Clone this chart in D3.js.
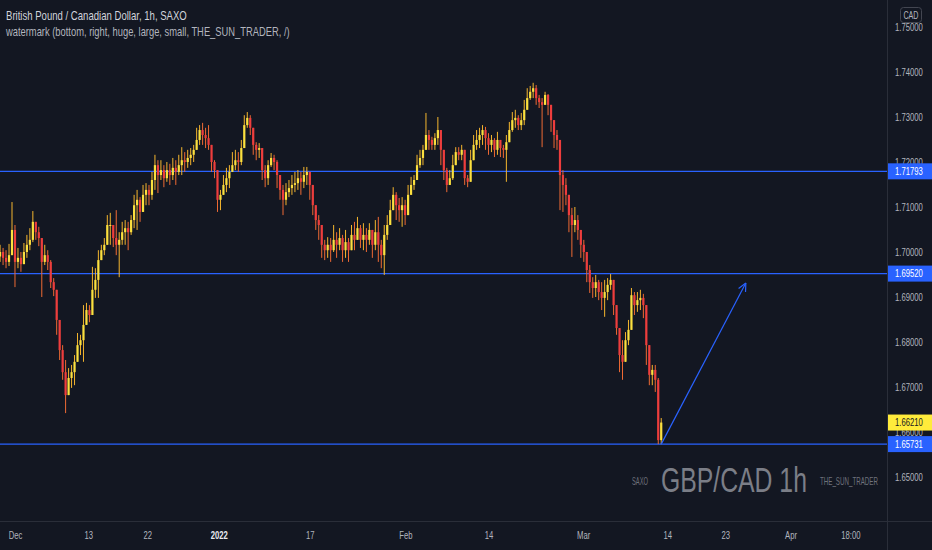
<!DOCTYPE html>
<html>
<head>
<meta charset="utf-8">
<script src="https://cdn.jsdelivr.net/npm/d3@7"></script>
<style>
  html, body { margin: 0; padding: 0; background: #131722; overflow: hidden; }
  svg text { font-family: "Liberation Sans", Arial, sans-serif; }
</style>
</head>
<body>
<svg id="chart"></svg>
<script>
var firstOpen = 1.6990
var barStartDay = -1.67   // trading days after 1 Dec 2021

var barClose = [
 1.7000,1.6987,1.6978,1.6993,1.7049,1.6978,1.6987,1.6973,1.7000,1.7016,
 1.7027,1.7067,1.7044,1.7031,1.6978,1.6993,1.6978,1.6933,1.6916,1.6849,
 1.6782,1.6733,1.6682,1.6720,1.6733,1.6756,1.6793,1.6804,1.6838,1.6871,
 1.6860,1.6916,1.6938,1.6982,1.7004,1.7016,1.7060,1.7060,1.7031,1.7016,
 1.7027,1.7044,1.7053,1.7044,1.7071,1.7104,1.7116,1.7089,1.7127,1.7138,
 1.7127,1.7160,1.7193,1.7171,1.7182,1.7164,1.7182,1.7171,1.7187,1.7178,
 1.7193,1.7204,1.7200,1.7209,1.7216,1.7227,1.7249,1.7271,1.7260,1.7253,
 1.7238,1.7200,1.7182,1.7116,1.7127,1.7149,1.7164,1.7178,1.7193,1.7204,
 1.7200,1.7231,1.7282,1.7298,1.7276,1.7238,1.7227,1.7231,1.7182,1.7164,
 1.7193,1.7209,1.7200,1.7171,1.7138,1.7116,1.7133,1.7142,1.7149,1.7153,
 1.7164,1.7156,1.7171,1.7178,1.7149,1.7104,1.7071,1.7060,1.7016,1.7004,
 1.7016,1.7004,1.7027,1.7016,1.7031,1.7004,1.7022,1.7004,1.7038,1.7027,
 1.7053,1.7027,1.7038,1.7027,1.7049,1.7016,1.7044,1.7016,1.6993,1.7038,
 1.7060,1.7093,1.7127,1.7104,1.7093,1.7104,1.7082,1.7127,1.7149,1.7160,
 1.7193,1.7209,1.7227,1.7260,1.7249,1.7238,1.7253,1.7271,1.7227,1.7182,
 1.7149,1.7164,1.7193,1.7222,1.7216,1.7227,1.7164,1.7156,1.7204,1.7238,
 1.7249,1.7260,1.7271,1.7253,1.7238,1.7249,1.7227,1.7249,1.7231,1.7227,
 1.7244,1.7271,1.7293,1.7298,1.7282,1.7293,1.7316,1.7342,1.7356,1.7364,
 1.7342,1.7333,1.7327,1.7349,1.7327,1.7293,1.7260,1.7249,1.7171,1.7149,
 1.7127,1.7082,1.7060,1.7071,1.7049,1.7016,1.7000,1.6960,1.6933,1.6920,
 1.6933,1.6911,1.6898,1.6911,1.6927,1.6938,1.6882,1.6831,1.6771,1.6756,
 1.6804,1.6827,1.6904,1.6882,1.6893,1.6898,1.6882,1.6793,1.6727,1.6738,
 1.6716,1.6582,1.6621
]

var barHigh = [
 1.7016,1.7009,1.7004,1.7018,1.7111,1.7060,1.7009,1.7000,1.7020,1.7038,
 1.7053,1.7091,1.7067,1.7056,1.7027,1.7016,1.7004,1.6982,1.6942,1.6916,
 1.6849,1.6793,1.6760,1.6742,1.6749,1.6771,1.6820,1.6816,1.6882,1.6887,
 1.6882,1.6967,1.6964,1.7004,1.7016,1.7031,1.7082,1.7087,1.7060,1.7093,
 1.7044,1.7067,1.7071,1.7067,1.7082,1.7127,1.7138,1.7122,1.7149,1.7153,
 1.7149,1.7178,1.7216,1.7204,1.7204,1.7193,1.7200,1.7196,1.7209,1.7204,
 1.7216,1.7233,1.7222,1.7227,1.7231,1.7238,1.7276,1.7282,1.7287,1.7276,
 1.7282,1.7227,1.7204,1.7171,1.7138,1.7171,1.7187,1.7193,1.7222,1.7227,
 1.7222,1.7249,1.7304,1.7311,1.7304,1.7276,1.7244,1.7242,1.7231,1.7193,
 1.7204,1.7220,1.7216,1.7204,1.7160,1.7149,1.7153,1.7160,1.7171,1.7178,
 1.7182,1.7178,1.7189,1.7189,1.7178,1.7142,1.7093,1.7082,1.7038,1.7027,
 1.7033,1.7031,1.7060,1.7044,1.7053,1.7038,1.7049,1.7031,1.7060,1.7067,
 1.7078,1.7060,1.7064,1.7053,1.7064,1.7044,1.7071,1.7078,1.7027,1.7060,
 1.7082,1.7116,1.7144,1.7133,1.7120,1.7122,1.7116,1.7149,1.7167,1.7171,
 1.7216,1.7227,1.7238,1.7309,1.7271,1.7256,1.7264,1.7300,1.7260,1.7216,
 1.7187,1.7182,1.7216,1.7233,1.7233,1.7238,1.7216,1.7171,1.7227,1.7260,
 1.7271,1.7276,1.7282,1.7278,1.7264,1.7260,1.7253,1.7267,1.7249,1.7238,
 1.7260,1.7289,1.7311,1.7316,1.7304,1.7309,1.7338,1.7364,1.7369,1.7376,
 1.7371,1.7349,1.7342,1.7356,1.7351,1.7320,1.7282,1.7271,1.7238,1.7182,
 1.7164,1.7116,1.7098,1.7100,1.7082,1.7038,1.7027,1.6987,1.6971,1.6944,
 1.6949,1.6938,1.6933,1.6938,1.6942,1.6951,1.6938,1.6882,1.6827,1.6804,
 1.6822,1.6849,1.6920,1.6911,1.6911,1.6916,1.6907,1.6882,1.6760,1.6749,
 1.6749,1.6720,1.6631
]

var barLow = [
 1.6978,1.6971,1.6964,1.6969,1.7004,1.6922,1.6964,1.6956,1.6978,1.6987,
 1.7004,1.7022,1.7027,1.7013,1.6900,1.6971,1.6960,1.6920,1.6902,1.6816,
 1.6760,1.6716,1.6642,1.6689,1.6698,1.6704,1.6760,1.6771,1.6756,1.6838,
 1.6844,1.6893,1.6898,1.6898,1.6987,1.6993,1.7027,1.7016,1.7011,1.6993,
 1.6944,1.7016,1.7016,1.7004,1.7038,1.7053,1.7049,1.7067,1.7093,1.7104,
 1.7104,1.7116,1.7138,1.7131,1.7160,1.7144,1.7156,1.7149,1.7160,1.7149,
 1.7171,1.7171,1.7178,1.7187,1.7193,1.7200,1.7227,1.7238,1.7238,1.7231,
 1.7227,1.7178,1.7164,1.7089,1.7093,1.7127,1.7133,1.7142,1.7178,1.7182,
 1.7178,1.7193,1.7249,1.7276,1.7260,1.7216,1.7204,1.7209,1.7160,1.7144,
 1.7149,1.7189,1.7182,1.7142,1.7116,1.7082,1.7104,1.7122,1.7127,1.7133,
 1.7138,1.7127,1.7142,1.7149,1.7116,1.7082,1.7049,1.7027,1.6987,1.6982,
 1.6987,1.6978,1.7000,1.6987,1.7004,1.6978,1.6987,1.6978,1.7009,1.7004,
 1.7027,1.7009,1.7004,1.7000,1.7016,1.6987,1.7004,1.6978,1.6964,1.6949,
 1.7027,1.7060,1.7093,1.7071,1.7067,1.7056,1.7060,1.7089,1.7133,1.7138,
 1.7171,1.7187,1.7193,1.7231,1.7227,1.7227,1.7227,1.7238,1.7193,1.7160,
 1.7133,1.7149,1.7160,1.7200,1.7204,1.7204,1.7149,1.7144,1.7171,1.7204,
 1.7227,1.7231,1.7238,1.7227,1.7216,1.7222,1.7211,1.7216,1.7211,1.7209,
 1.7156,1.7249,1.7267,1.7276,1.7271,1.7271,1.7282,1.7316,1.7338,1.7342,
 1.7327,1.7320,1.7233,1.7331,1.7304,1.7267,1.7231,1.7227,1.7093,1.7089,
 1.7104,1.7044,1.6989,1.7044,1.7027,1.6987,1.6978,1.6933,1.6909,1.6898,
 1.6900,1.6893,1.6871,1.6856,1.6893,1.6916,1.6860,1.6816,1.6733,1.6716,
 1.6778,1.6793,1.6849,1.6860,1.6867,1.6871,1.6853,1.6749,1.6704,1.6704,
 1.6689,1.6573,1.6573
]

var priceTicks = [1.65, 1.66, 1.67, 1.68, 1.69, 1.70, 1.71, 1.72, 1.73, 1.74, 1.75]
var timeTicks = [0, 8.2, 14.8, 22.8, 33, 43.7, 53, 63.6, 73, 79.5, 86.8, 93.5]
var timeLabels = ["Dec", "13", "22", "2022", "17", "Feb", "14", "Mar", "14", "23", "Apr", "18:00"]

var levelLines = [1.71793, 1.69520, 1.65731]
var lastPrice = 1.66210
var arrowFrom = {day: 72.33, price: 1.6573}
var arrowTo = {day: 81.8, price: 1.6931}

var screen = {width: 932, height: 550}
var plot = {right: 887, bottom: 521}

var svg = d3.select("#chart")
    .attr("width", screen.width)
    .attr("height", screen.height)

svg.append("rect")
    .attr("width", screen.width)
    .attr("height", screen.height)
    .attr("fill", "#131722")

var xScale = d3.scaleLinear()
    .domain([-1.68, 97.6])
    .range([0, plot.right])

var yScale = d3.scaleLinear()
    .domain([1.64, 1.76])
    .range([522, -18])

// narrow the text horizontally like the face in the screenshot
var squeeze = function(sel, k)
{
    sel.each(function() {
        var t = d3.select(this)
        var x = +t.attr("x") || 0
        t.attr("x", x / k).attr("transform", "scale(" + k + ",1)")
    })
}

var fitWidth = function(sel, w)
{
    sel.each(function() {
        squeeze(d3.select(this), w / this.getComputedTextLength())
    })
}

var bars = barClose.map(function(c, i) {
    var o = i == 0 ? firstOpen : barClose[i - 1]
    return {
        day: barStartDay + i / 3,
        open: o,
        close: c,
        high: Math.max(barHigh[i], o, c),
        low: Math.min(barLow[i], o, c)
    }
})

var plotArea = svg.append("g").attr("id", "plot")

// level lines
plotArea.selectAll("line.level")
    .data(levelLines)
    .enter()
    .append("line")
    .attr("class", "level")
    .attr("x1", 0)
    .attr("x2", plot.right)
    .attr("y1", function(d) { return yScale(d) })
    .attr("y2", function(d) { return yScale(d) })
    .attr("stroke", "#2962ff")
    .attr("stroke-width", 1.2)

var candle = plotArea.selectAll("g.candle")
    .data(bars)
    .enter()
    .append("g")
    .attr("class", "candle")

candle.append("line")
    .attr("x1", function(d) { return xScale(d.day) })
    .attr("x2", function(d) { return xScale(d.day) })
    .attr("y1", function(d) { return yScale(d.high) })
    .attr("y2", function(d) { return yScale(d.low) })
    .attr("stroke", function(d) { return d.close >= d.open ? "#f5b62e" : "#ef6a34" })
    .attr("stroke-width", 1)

candle.append("rect")
    .attr("x", function(d) { return xScale(d.day) - 1.1 })
    .attr("width", 2.2)
    .attr("y", function(d) { return yScale(Math.max(d.open, d.close)) })
    .attr("height", function(d) { return Math.max(1, Math.abs(yScale(d.open) - yScale(d.close))) })
    .attr("fill", function(d) { return d.close >= d.open ? "#fbe03f" : "#ee3d3d" })

// projection arrow
var ax1 = xScale(arrowFrom.day), ay1 = yScale(arrowFrom.price)
var ax2 = xScale(arrowTo.day), ay2 = yScale(arrowTo.price)
plotArea.append("line")
    .attr("x1", ax1).attr("y1", ay1)
    .attr("x2", ax2).attr("y2", ay2)
    .attr("stroke", "#2962ff")
    .attr("stroke-width", 1.2)

var ang = Math.atan2(ay1 - ay2, ax1 - ax2)
;[-0.45, 0.45].forEach(function(da) {
    plotArea.append("line")
        .attr("x1", ax2).attr("y1", ay2)
        .attr("x2", ax2 + 9 * Math.cos(ang + da))
        .attr("y2", ay2 + 9 * Math.sin(ang + da))
        .attr("stroke", "#2962ff")
        .attr("stroke-width", 1.2)
})

// watermark
var wm = svg.append("g").attr("fill", "#6f727c")
wm.append("text")
    .attr("x", 640).attr("y", 485)
    .attr("text-anchor", "middle")
    .attr("font-size", 10)
    .text("SAXO")
    .call(fitWidth, 16)
wm.append("text")
    .attr("x", 661).attr("y", 492)
    .attr("font-size", 36)
    .attr("fill", "#7b7e87")
    .text("GBP/CAD 1h")
    .call(fitWidth, 146)
wm.append("text")
    .attr("x", 820).attr("y", 485)
    .attr("font-size", 10)
    .text("THE_SUN_TRADER")
    .call(fitWidth, 58)

// legend
svg.append("text")
    .attr("x", 6).attr("y", 20)
    .attr("font-size", 12)
    .attr("fill", "#d1d4dc")
    .text("British Pound / Canadian Dollar, 1h, SAXO")
    .call(fitWidth, 181)
svg.append("text")
    .attr("x", 6).attr("y", 36)
    .attr("font-size", 12)
    .attr("fill", "#b2b5be")
    .text("watermark (bottom, right, huge, large, small, THE_SUN_TRADER, /)")
    .call(fitWidth, 284)

// price axis
var yAxis = d3.axisRight(yScale)
    .tickValues(priceTicks)
    .tickFormat(d3.format(".5f"))
    .tickSize(0)
    .tickPadding(8)

var yAxisG = svg.append("g")
    .attr("class", "axis1")
    .attr("transform", "translate(" + plot.right + ",0)")
    .call(yAxis)
yAxisG.select(".domain").remove()
yAxisG.selectAll("text")
    .attr("fill", "#b2b5be")
    .attr("font-size", 11)
    .call(squeeze, 0.7)

// time axis
var xAxis = d3.axisBottom(xScale)
    .tickValues(timeTicks)
    .tickFormat(function(d, i) { return timeLabels[i] })
    .tickSize(0)
    .tickPadding(10)

var xAxisG = svg.append("g")
    .attr("class", "axis")
    .attr("transform", "translate(0," + plot.bottom + ")")
    .call(xAxis)
xAxisG.select(".domain").remove()
xAxisG.selectAll("text")
    .attr("fill", function(d, i) { return timeLabels[i] == "2022" ? "#e8eaf0" : "#b2b5be" })
    .attr("font-weight", function(d, i) { return timeLabels[i] == "2022" ? "bold" : "normal" })
    .attr("font-size", 11)
    .call(squeeze, 0.7)

// borders
svg.append("line")
    .attr("x1", plot.right + 0.5).attr("x2", plot.right + 0.5)
    .attr("y1", 0).attr("y2", screen.height)
    .attr("stroke", "#2a2e39")
svg.append("line")
    .attr("x1", 0).attr("x2", screen.width)
    .attr("y1", plot.bottom + 0.5).attr("y2", plot.bottom + 0.5)
    .attr("stroke", "#2a2e39")

// price labels on the axis
var tagData = levelLines.map(function(v) { return {v: v, bg: "#2962ff", fg: "#ffffff"} })
tagData.splice(2, 0, {v: lastPrice, bg: "#ffeb3b", fg: "#131722"})

var tags = svg.selectAll("g.tag")
    .data(tagData)
    .enter()
    .append("g")
    .attr("class", "tag")
    .attr("transform", function(d) { return "translate(" + plot.right + "," + yScale(d.v) + ")" })

tags.append("rect")
    .attr("x", 1).attr("y", -8)
    .attr("width", screen.width - plot.right - 1)
    .attr("height", 16)
    .attr("fill", function(d) { return d.bg })
tags.append("text")
    .attr("x", 8).attr("dy", "0.35em")
    .attr("font-size", 11)
    .attr("fill", function(d) { return d.fg })
    .text(function(d) { return d3.format(".5f")(d.v) })
    .call(squeeze, 0.7)

// currency box
svg.append("rect")
    .attr("x", 900.5).attr("y", 7.5)
    .attr("width", 21).attr("height", 15)
    .attr("rx", 3)
    .attr("fill", "#131722")
    .attr("stroke", "#434651")
svg.append("text")
    .attr("x", 911).attr("y", 19)
    .attr("text-anchor", "middle")
    .attr("font-size", 11)
    .attr("fill", "#b2b5be")
    .text("CAD")
    .call(squeeze, 0.65)
</script>
</body>
</html>
